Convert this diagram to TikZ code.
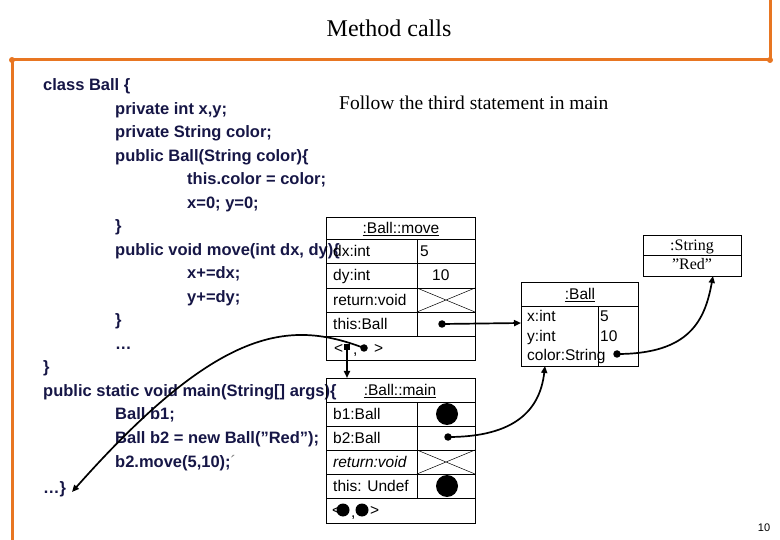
\documentclass[tikz,border=0pt]{standalone}
\usepackage{fontspec}
\setmainfont{Liberation Sans}
\newfontfamily\seriff{Liberation Serif}
\usetikzlibrary{arrows.meta}
\definecolor{codecol}{RGB}{22,22,70}
\definecolor{orng}{RGB}{232,118,34}
\begin{document}
\begin{tikzpicture}[x=1pt,y=-1pt,
  codet/.style={anchor=base west, inner sep=0pt, font=\fontsize{16.5}{20}\selectfont\bfseries, text=codecol},
  cellt/.style={anchor=base west, inner sep=0pt, font=\fontsize{15.5}{18}\selectfont},
  ctitle/.style={anchor=base, inner sep=0pt, font=\fontsize{15.5}{18}\selectfont},
  boxline/.style={draw=black, line width=0.8pt},
  conn/.style={draw=black, line width=1.7pt, -{Triangle[length=7pt,width=6pt]}},
  smalldot/.style={circle, fill=black, inner sep=0pt, minimum size=7.5pt},
  sqdot/.style={rectangle, fill=black, inner sep=0pt, minimum size=6pt},
  bigdot/.style={circle, fill=black, inner sep=0pt, minimum size=22pt},
  middot/.style={circle, fill=black, inner sep=0pt, minimum size=13pt},
  orangeline/.style={draw=orng, line width=3pt}]
\useasboundingbox (0,0) rectangle (780,540);
% orange frame
\coordinate (oL) at (12,60);
\coordinate (oR) at (770,60);
\coordinate (oTop) at (770,0);
\coordinate (oBot) at (12,540);
\draw[orangeline] (oBot) -- (oL) -- (oR) -- (oTop);
\fill[orng] (oL) circle (3pt) (oR) circle (3pt);
% title
\node[inner sep=0pt, font=\seriff\fontsize{24}{28}\selectfont] (title) at (389,28) {Method calls};
\node[anchor=base west, inner sep=0pt, font=\seriff\fontsize{19.5}{23}\selectfont] (follow) at (339,110) {Follow the third statement in main};
% code
\node[codet] (c1) at (43,91) {class Ball \{};
\node[codet] (c2) at (115,114.5) {private int x,y;};
\node[codet] (c3) at (115,138) {private String color;};
\node[codet] (c4) at (115,161.5) {public Ball(String color)\{};
\node[codet] (c5) at (187,185) {this.color = color;};
\node[codet] (c6) at (187,208.5) {x=0; y=0;};
\node[codet] (c7) at (115,232) {\}};
\node[codet] (c8) at (115,255.5) {public void move(int dx, dy)\{};
\node[codet] (c9) at (187,279) {x+=dx;};
\node[codet] (c10) at (187,302.5) {y+=dy;};
\node[codet] (c11) at (115,326) {\}};
\node[codet] (c12) at (115,349.5) {…};
\node[codet] (c13) at (43,373) {\}};
\node[codet] (c14) at (43,396.5) {public static void main(String[] args)\{};
\node[codet] (c15) at (115,420) {Ball b1;};
\node[codet] (c16) at (115,443.5) {Ball b2 = new Ball(”Red”);};
\node[codet] (c17) at (115,467) {b2.move(5,10);\textmd{\color{gray}´}};
\node[codet] (c18) at (43,493) {…\}};
% ---- move frame
\coordinate (mvTL) at (326,217);
\coordinate (mvBR) at (475,360);
\draw[boxline] (mvTL) rectangle (mvBR);
\draw[boxline] (326,239) -- (475,239) (326,263) -- (475,263) (326,288) -- (475,288)
  (326,312) -- (475,312) (326,336) -- (475,336) (417,239) -- (417,336);
\draw[line width=0.5pt] (417,288) -- (475,312) (417,312) -- (475,288);
\node[ctitle] (mvtitle) at (401,233.5) {\underline{:Ball::move}};
\node[cellt] (mvdx) at (333,256.5) {dx:int};
\node[cellt] (mvdxv) at (420,256.5) {5};
\node[cellt] (mvdy) at (333,281) {dy:int};
\node[cellt] (mvdyv) at (432,281) {10};
\node[cellt] (mvret) at (333,305.5) {return:void};
\node[cellt] (mvthis) at (333,329.5) {this:Ball};
\node[cellt] (mvlt) at (334,353.5) {<};
\node[cellt] (mvcm) at (353,355) {,};
\node[cellt] (mvgt) at (374,353.5) {>};
\node[sqdot] (mvsq) at (347,347) {};
\node[smalldot] (mvrd) at (364,348) {};
\node[smalldot] (mvthisd) at (442,324) {};
% ---- main frame
\coordinate (mnTL) at (326,378);
\coordinate (mnBR) at (475,523);
\coordinate (mnTop) at (347,378);
\draw[boxline] (mnTL) rectangle (mnBR);
\draw[boxline] (326,402) -- (475,402) (326,426) -- (475,426) (326,450) -- (475,450)
  (326,474) -- (475,474) (326,498) -- (475,498) (417,402) -- (417,498);
\draw[line width=0.5pt] (417,450) -- (475,474) (417,474) -- (475,450);
\node[ctitle] (mntitle) at (400,395.5) {\underline{:Ball::main}};
\node[cellt] (mnb1) at (333,419.5) {b1:Ball};
\node[cellt] (mnb2) at (333,443.5) {b2:Ball};
\node[cellt] (mnret) at (333,467.5) {\itshape return:void};
\node[cellt] (mnthis) at (333,491.5) {this: Undef};
\node[bigdot] (mnb1d) at (447,414) {};
\node[smalldot] (mnb2d) at (448,437) {};
\node[bigdot] (mnthisd) at (447,486) {};
\node[cellt] (mnlt) at (332,515.5) {<};
\node[cellt] (mncm) at (351,517) {,};
\node[cellt] (mngt) at (370,515.5) {>};
\node[middot] (mnd1) at (343,510) {};
\node[middot] (mnd2) at (362,510) {};
% ---- :Ball object
\coordinate (bTL) at (521,282);
\coordinate (bBR) at (638,366);
\coordinate (bLeft) at (521,323);
\coordinate (bBot) at (545,366);
\draw[boxline] (bTL) rectangle (bBR);
\draw[boxline] (521,306) -- (638,306) (598,306) -- (598,366);
\node[ctitle] (btitle) at (580,299.5) {\underline{:Ball}};
\node[cellt] (bx) at (527,321.5) {x:int};
\node[cellt] (bxv) at (600,321.5) {5};
\node[cellt] (by) at (527,341.5) {y:int};
\node[cellt] (byv) at (600,341.5) {10};
\node[cellt] (bc) at (527,360.5) {color:String};
\node[smalldot] (bcd) at (617,354) {};
% ---- :String object
\coordinate (sTL) at (643,235);
\coordinate (sBR) at (741,276);
\coordinate (sBot) at (713,276);
\draw[boxline] (sTL) rectangle (sBR);
\draw[boxline] (643,255) -- (741,255);
\node[anchor=base, inner sep=0pt, font=\seriff\fontsize{16}{19}\selectfont] (stitle) at (692,250.5) {\underline{:String}};
\node[anchor=base, inner sep=0pt, font=\seriff\fontsize{16}{19}\selectfont] (sval) at (692,270) {”Red”};
% page number
\node[anchor=base, inner sep=0pt, font=\fontsize{11}{13}\selectfont] (pg) at (764,531) {10};
% ---- connectors
\coordinate (retpt) at (72,492);
\draw[conn] (mvsq.center) -- (mnTop);
\draw[conn] (mvrd.center) .. controls (290,320) and (220,325) .. (retpt);
\draw[conn] (mvthisd.center) -- (bLeft);
\draw[conn] (mnb2d.center) .. controls (515,437) and (540,410) .. (bBot);
\draw[conn] (bcd.center) .. controls (690,354) and (705,320) .. (sBot);
\end{tikzpicture}
\end{document}
